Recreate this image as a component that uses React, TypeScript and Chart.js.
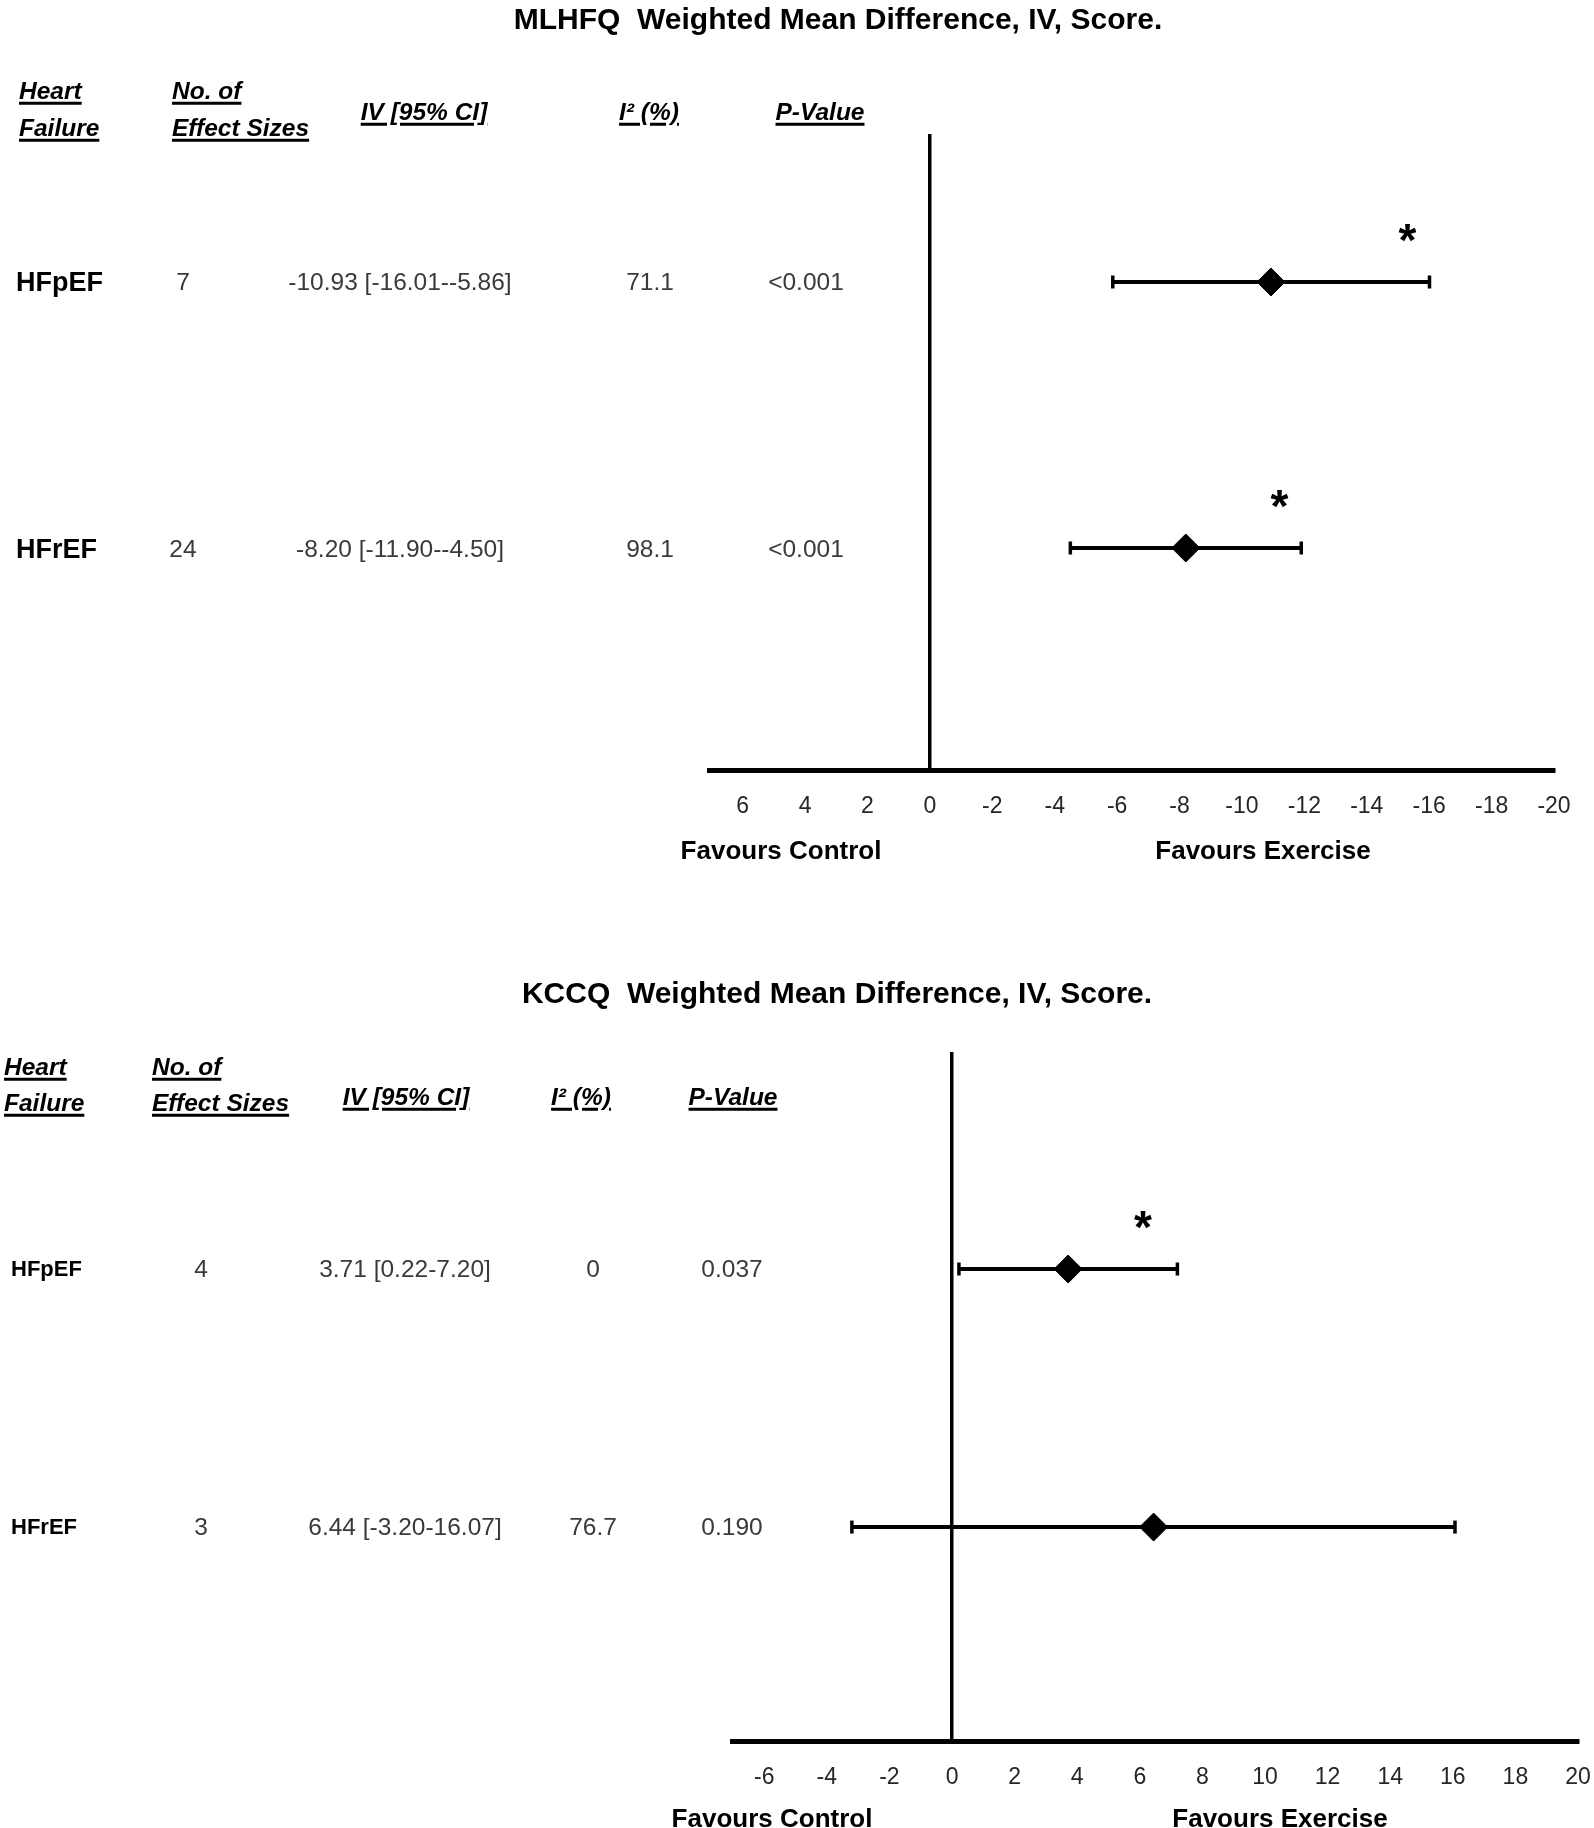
import React, { useEffect, useRef } from 'react';
import { Chart, registerables } from 'chart.js';

Chart.register(...registerables);

const FONT = "'Liberation Sans', Arial, sans-serif";

// ---------------- data ----------------
const groups = ['HFpEF', 'HFrEF'];

// MLHFQ panel
const mlhfqEffectSizes = [7, 24];
const mlhfqMean = [-10.93, -8.2];
const mlhfqLower = [-16.01, -11.9];
const mlhfqUpper = [-5.86, -4.5];
const mlhfqI2 = ['71.1', '98.1'];
const mlhfqP = ['<0.001', '<0.001'];
const mlhfqStarX: (number | null)[] = [-15.3, -11.2];
const mlhfqTicks = [6, 4, 2, 0, -2, -4, -6, -8, -10, -12, -14, -16, -18, -20];

// KCCQ panel
const kccqEffectSizes = [4, 3];
const kccqMean = [3.71, 6.44];
const kccqLower = [0.22, -3.2];
const kccqUpper = [7.2, 16.07];
const kccqI2 = ['0', '76.7'];
const kccqP = ['0.037', '0.190'];
const kccqStarX: (number | null)[] = [6.1, null];
const kccqTicks = [-6, -4, -2, 0, 2, 4, 6, 8, 10, 12, 14, 16, 18, 20];

const fmtCI = (m: number, l: number, u: number) =>
  `${m.toFixed(2)} [${l.toFixed(2)}-${u.toFixed(2)}]`;

// ---------------- chart ----------------
const starPlugin = {
  id: 'stars',
  afterDatasetsDraw(chart: any, _args: any, opts: any) {
    const { ctx } = chart;
    const x = chart.scales.x;
    const y = chart.scales.y;
    ctx.save();
    ctx.font = `bold ${opts.size}px ${FONT}`;
    ctx.fillStyle = '#000';
    ctx.textAlign = 'center';
    ctx.textBaseline = 'alphabetic';
    (opts.xs || []).forEach((sx: number | null, i: number) => {
      if (sx == null) return;
      ctx.fillText('*', x.getPixelForValue(sx), y.getPixelForValue(i + 1) - opts.lift);
    });
    ctx.restore();
  },
};

const CANVAS_W = 1620;

type ForestProps = {
  mean: number[];
  lower: number[];
  upper: number[];
  starX: (number | null)[];
  ticks: number[];
  xMin: number;
  xMax: number;
  reverse: boolean;
  padLeft: number;
  padRight: number;
  padTop: number;
  scaleHeight: number;
  yMin: number;
  yMax: number;
  top: number;
  height: number;
};

function Forest(p: ForestProps) {
  const ref = useRef<HTMLCanvasElement | null>(null);
  useEffect(() => {
    if (!ref.current) return;
    const datasets: any[] = [
      {
        label: 'mean',
        data: p.mean.map((m, i) => ({ x: m, y: i + 1 })),
        pointStyle: 'rectRot',
        pointRadius: 14,
        pointBackgroundColor: '#000',
        pointBorderColor: '#000',
        pointBorderWidth: 1,
        showLine: false,
        order: 0,
      },
      ...p.mean.map((_, i) => ({
        label: 'ci' + i,
        data: [
          { x: p.lower[i], y: i + 1 },
          { x: p.upper[i], y: i + 1 },
        ],
        showLine: true,
        borderColor: '#000',
        borderWidth: 4,
        pointStyle: 'line',
        pointRotation: 90,
        pointRadius: 6.5,
        pointBorderWidth: 3.5,
        pointBorderColor: '#000',
        pointBackgroundColor: '#000',
        order: 1,
      })),
    ];
    const chart = new Chart(ref.current, {
      type: 'scatter',
      data: { datasets },
      plugins: [starPlugin],
      options: {
        responsive: false,
        maintainAspectRatio: false,
        animation: false,
        events: [],
        layout: { padding: { left: p.padLeft, right: p.padRight, top: p.padTop, bottom: 0 } },
        plugins: {
          legend: { display: false },
          tooltip: { enabled: false },
          stars: { xs: p.starX, lift: 26, size: 46 },
        } as any,
        scales: {
          x: {
            type: 'linear',
            min: p.xMin,
            max: p.xMax,
            reverse: p.reverse,
            afterBuildTicks: (ax: any) => {
              ax.ticks = p.ticks.map((v) => ({ value: v }));
            },
            afterFit: (s: any) => {
              s.height = p.scaleHeight;
            },
            grid: {
              drawTicks: false,
              color: (c: any) => (c.tick && c.tick.value === 0 ? '#000' : 'rgba(0,0,0,0)'),
              lineWidth: 3.5,
            },
            border: { display: true, color: '#000', width: 5 },
            ticks: {
              padding: 22.5,
              color: '#262626',
              autoSkip: false,
              maxRotation: 0,
              font: { family: FONT, size: 23 },
              callback: (v: any) => String(v),
            },
          },
          y: {
            type: 'linear',
            display: false,
            min: p.yMin,
            max: p.yMax,
            reverse: true,
          },
        },
      } as any,
    });
    return () => chart.destroy();
  }, []);
  return (
    <canvas
      ref={ref}
      width={CANVAS_W}
      height={p.height}
      style={{ position: 'absolute', left: 0, top: p.top, width: CANVAS_W, height: p.height, display: 'block' }}
    />
  );
}

// ---------------- text helpers ----------------
function T(props: {
  x: number;
  y: number;
  align?: 'left' | 'center';
  size: number;
  bold?: boolean;
  italic?: boolean;
  underline?: boolean;
  color?: string;
  children: React.ReactNode;
}) {
  const { x, y, align = 'center', size, bold, italic, underline, color = '#000', children } = props;
  return (
    <div
      style={{
        position: 'absolute',
        left: x,
        top: y,
        transform: align === 'center' ? 'translate(-50%, -50%)' : 'translate(0, -50%)',
        fontFamily: FONT,
        fontSize: size,
        lineHeight: 1,
        fontWeight: bold ? 700 : 400,
        fontStyle: italic ? 'italic' : 'normal',
        textDecoration: underline ? 'underline' : 'none',
        textDecorationThickness: underline ? 2.5 : undefined,
        textUnderlineOffset: underline ? 3 : undefined,
        color,
        whiteSpace: 'pre',
        zIndex: 2,
      }}
    >
      {children}
    </div>
  );
}

type PanelText = {
  title: string;
  titleX: number;
  titleY: number;
  hdrY1: number;
  hdrY2: number;
  hdrMid: number;
  colHF: number;
  colN: number;
  colIV: number;
  colI2: number;
  colP: number;
  rowName: number;
  rowNSize: number;
  nX: number;
  ivX: number;
  i2X: number;
  pX: number;
  rowYs: number[];
  favY: number;
  favCX: number;
  favEX: number;
  n: number[];
  mean: number[];
  lower: number[];
  upper: number[];
  i2: string[];
  p: string[];
};

function PanelTexts(t: PanelText) {
  const H = 24.5;
  const V = 24.5;
  const vc = '#3a3a3a';
  return (
    <>
      <T x={t.titleX} y={t.titleY} size={30} bold>
        {t.title}
      </T>
      <T x={t.colHF} y={t.hdrY1} align="left" size={H} bold italic underline>Heart</T>
      <T x={t.colHF} y={t.hdrY2} align="left" size={H} bold italic underline>Failure</T>
      <T x={t.colN} y={t.hdrY1} align="left" size={H} bold italic underline>No. of</T>
      <T x={t.colN} y={t.hdrY2} align="left" size={H} bold italic underline>Effect Sizes</T>
      <T x={t.colIV} y={t.hdrMid} size={H} bold italic underline>IV [95% CI]</T>
      <T x={t.colI2} y={t.hdrMid} size={H} bold italic underline>I² (%)</T>
      <T x={t.colP} y={t.hdrMid} size={H} bold italic underline>P-Value</T>
      {groups.map((g, i) => (
        <React.Fragment key={g}>
          <T x={t.rowName} y={t.rowYs[i]} align="left" size={t.rowNSize} bold>{g}</T>
          <T x={t.nX} y={t.rowYs[i]} size={V} color={vc}>{String(t.n[i])}</T>
          <T x={t.ivX} y={t.rowYs[i]} size={V} color={vc}>{fmtCI(t.mean[i], t.lower[i], t.upper[i])}</T>
          <T x={t.i2X} y={t.rowYs[i]} size={V} color={vc}>{t.i2[i]}</T>
          <T x={t.pX} y={t.rowYs[i]} size={V} color={vc}>{t.p[i]}</T>
        </React.Fragment>
      ))}
      <T x={t.favCX} y={t.favY} size={26} bold>Favours Control</T>
      <T x={t.favEX} y={t.favY} size={26} bold>Favours Exercise</T>
    </>
  );
}

export default function App() {
  return (
    <div style={{ position: 'relative', width: 1594, height: 1828, background: '#fff', overflow: 'hidden' }}>
      <style>{'html,body{margin:0;padding:0;background:#fff;overflow:hidden;}'}</style>
      <Forest
        mean={mlhfqMean}
        lower={mlhfqLower}
        upper={mlhfqUpper}
        starX={mlhfqStarX}
        ticks={mlhfqTicks}
        xMin={-20}
        xMax={7.08}
        reverse={true}
        padLeft={709}
        padRight={CANVAS_W - 1554}
        padTop={134}
        scaleHeight={70}
        yMin={0.4436}
        yMax={2.8346}
        top={0}
        height={840}
      />
      <Forest
        mean={kccqMean}
        lower={kccqLower}
        upper={kccqUpper}
        starX={kccqStarX}
        ticks={kccqTicks}
        xMin={-7.03}
        xMax={20}
        reverse={false}
        padLeft={732}
        padRight={CANVAS_W - 1578}
        padTop={152}
        scaleHeight={87}
        yMin={0.159}
        yMax={2.829}
        top={900}
        height={928}
      />
      <PanelTexts
        title={'MLHFQ  Weighted Mean Difference, IV, Score.'}
        titleX={838}
        titleY={19}
        hdrY1={91}
        hdrY2={128}
        hdrMid={112}
        colHF={19}
        colN={172}
        colIV={424}
        colI2={649}
        colP={820}
        rowName={16}
        rowNSize={27}
        nX={183}
        ivX={400}
        i2X={650}
        pX={806}
        rowYs={[282, 549]}
        favY={850}
        favCX={781}
        favEX={1263}
        n={mlhfqEffectSizes}
        mean={mlhfqMean}
        lower={mlhfqLower}
        upper={mlhfqUpper}
        i2={mlhfqI2}
        p={mlhfqP}
      />
      <PanelTexts
        title={'KCCQ  Weighted Mean Difference, IV, Score.'}
        titleX={837}
        titleY={993}
        hdrY1={1067}
        hdrY2={1103}
        hdrMid={1097}
        colHF={4}
        colN={152}
        colIV={406}
        colI2={581}
        colP={733}
        rowName={11}
        rowNSize={22}
        nX={201}
        ivX={405}
        i2X={593}
        pX={732}
        rowYs={[1269, 1527]}
        favY={1818}
        favCX={772}
        favEX={1280}
        n={kccqEffectSizes}
        mean={kccqMean}
        lower={kccqLower}
        upper={kccqUpper}
        i2={kccqI2}
        p={kccqP}
      />
    </div>
  );
}
